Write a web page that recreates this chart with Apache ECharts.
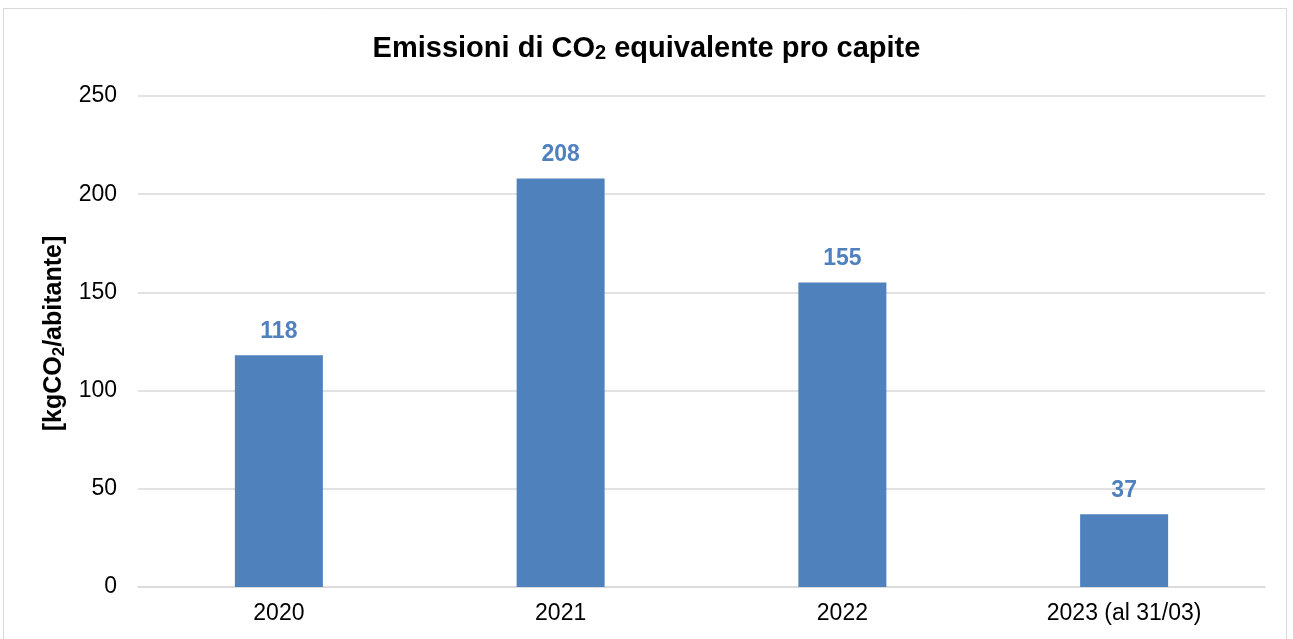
<!DOCTYPE html>
<html><head><meta charset="utf-8">
<script src="https://cdn.jsdelivr.net/npm/echarts@6/dist/echarts.min.js"></script>
<style>html,body{margin:0;padding:0;background:#fff}#c{width:1293px;height:639px}</style>
</head><body><div id="c"></div>
<script>
const categories = ['2020', '2021', '2022', '2023 (al 31/03)'];
const values = [118, 208, 155, 37];
const yTicks = [0, 50, 100, 150, 200, 250];

const chart = echarts.init(document.getElementById('c'), null, {renderer: 'canvas'});
chart.setOption({
  backgroundColor: '#fff',
  animation: false,
  title: {
    text: '{a|Emissioni di CO}{s|2}{a| equivalente pro capite}',
    left: 'center', top: 29,
    padding: [5, 0, 5, 12],
    textStyle: {
      rich: {
        a: {fontFamily: 'Liberation Sans, Arial', fontWeight: 'bold', fontSize: 29, color: '#000'},
        s: {fontFamily: 'Liberation Sans, Arial', fontWeight: 'bold', fontSize: 20, color: '#000', verticalAlign: 'bottom', padding: [5, 0, 0, 0]}
      }
    }
  },
  graphic: [{
    type: 'rect', shape: {x: 3.5, y: 8.5, width: 1283, height: 640},
    style: {fill: 'none', stroke: '#d9d9d9', lineWidth: 1}, silent: true
  }],
  grid: {left: 138, right: 28, top: 96, bottom: 52, containLabel: false},
  xAxis: {
    type: 'category', data: categories,
    axisLine: {lineStyle: {color: '#d9d9d9', width: 1.5}},
    axisTick: {show: false},
    axisLabel: {color: '#000', fontFamily: 'Liberation Sans, Arial', fontSize: 23, margin: 15}
  },
  yAxis: {
    type: 'value', min: 0, max: 250, interval: 50,
    name: '{b|[kgCO}{s|2}{b|/abitante]}',
    nameLocation: 'middle', nameGap: 62, nameRotate: 90,
    nameTextStyle: {
      padding: [0, 0, 0, 16],
      rich: {
        b: {fontFamily: 'Liberation Sans, Arial', fontWeight: 'bold', fontSize: 25, color: '#000'},
        s: {fontFamily: 'Liberation Sans, Arial', fontWeight: 'bold', fontSize: 17, color: '#000', padding: [10, 0, 0, 0]}
      }
    },
    axisLine: {show: false}, axisTick: {show: false},
    axisLabel: {color: '#000', fontFamily: 'Liberation Sans, Arial', fontSize: 23, margin: 21,
      formatter: v => yTicks.includes(v) ? String(v) : ''},
    splitLine: {lineStyle: {color: '#d9d9d9', width: 1.5}}
  },
  series: [{
    type: 'bar', data: values, barWidth: 88,
    itemStyle: {color: '#4f81bd'},
    label: {show: true, position: 'top', distance: 12, color: '#4f81bd',
      fontFamily: 'Liberation Sans, Arial', fontWeight: 'bold', fontSize: 23}
  }]
});
</script></body></html>
